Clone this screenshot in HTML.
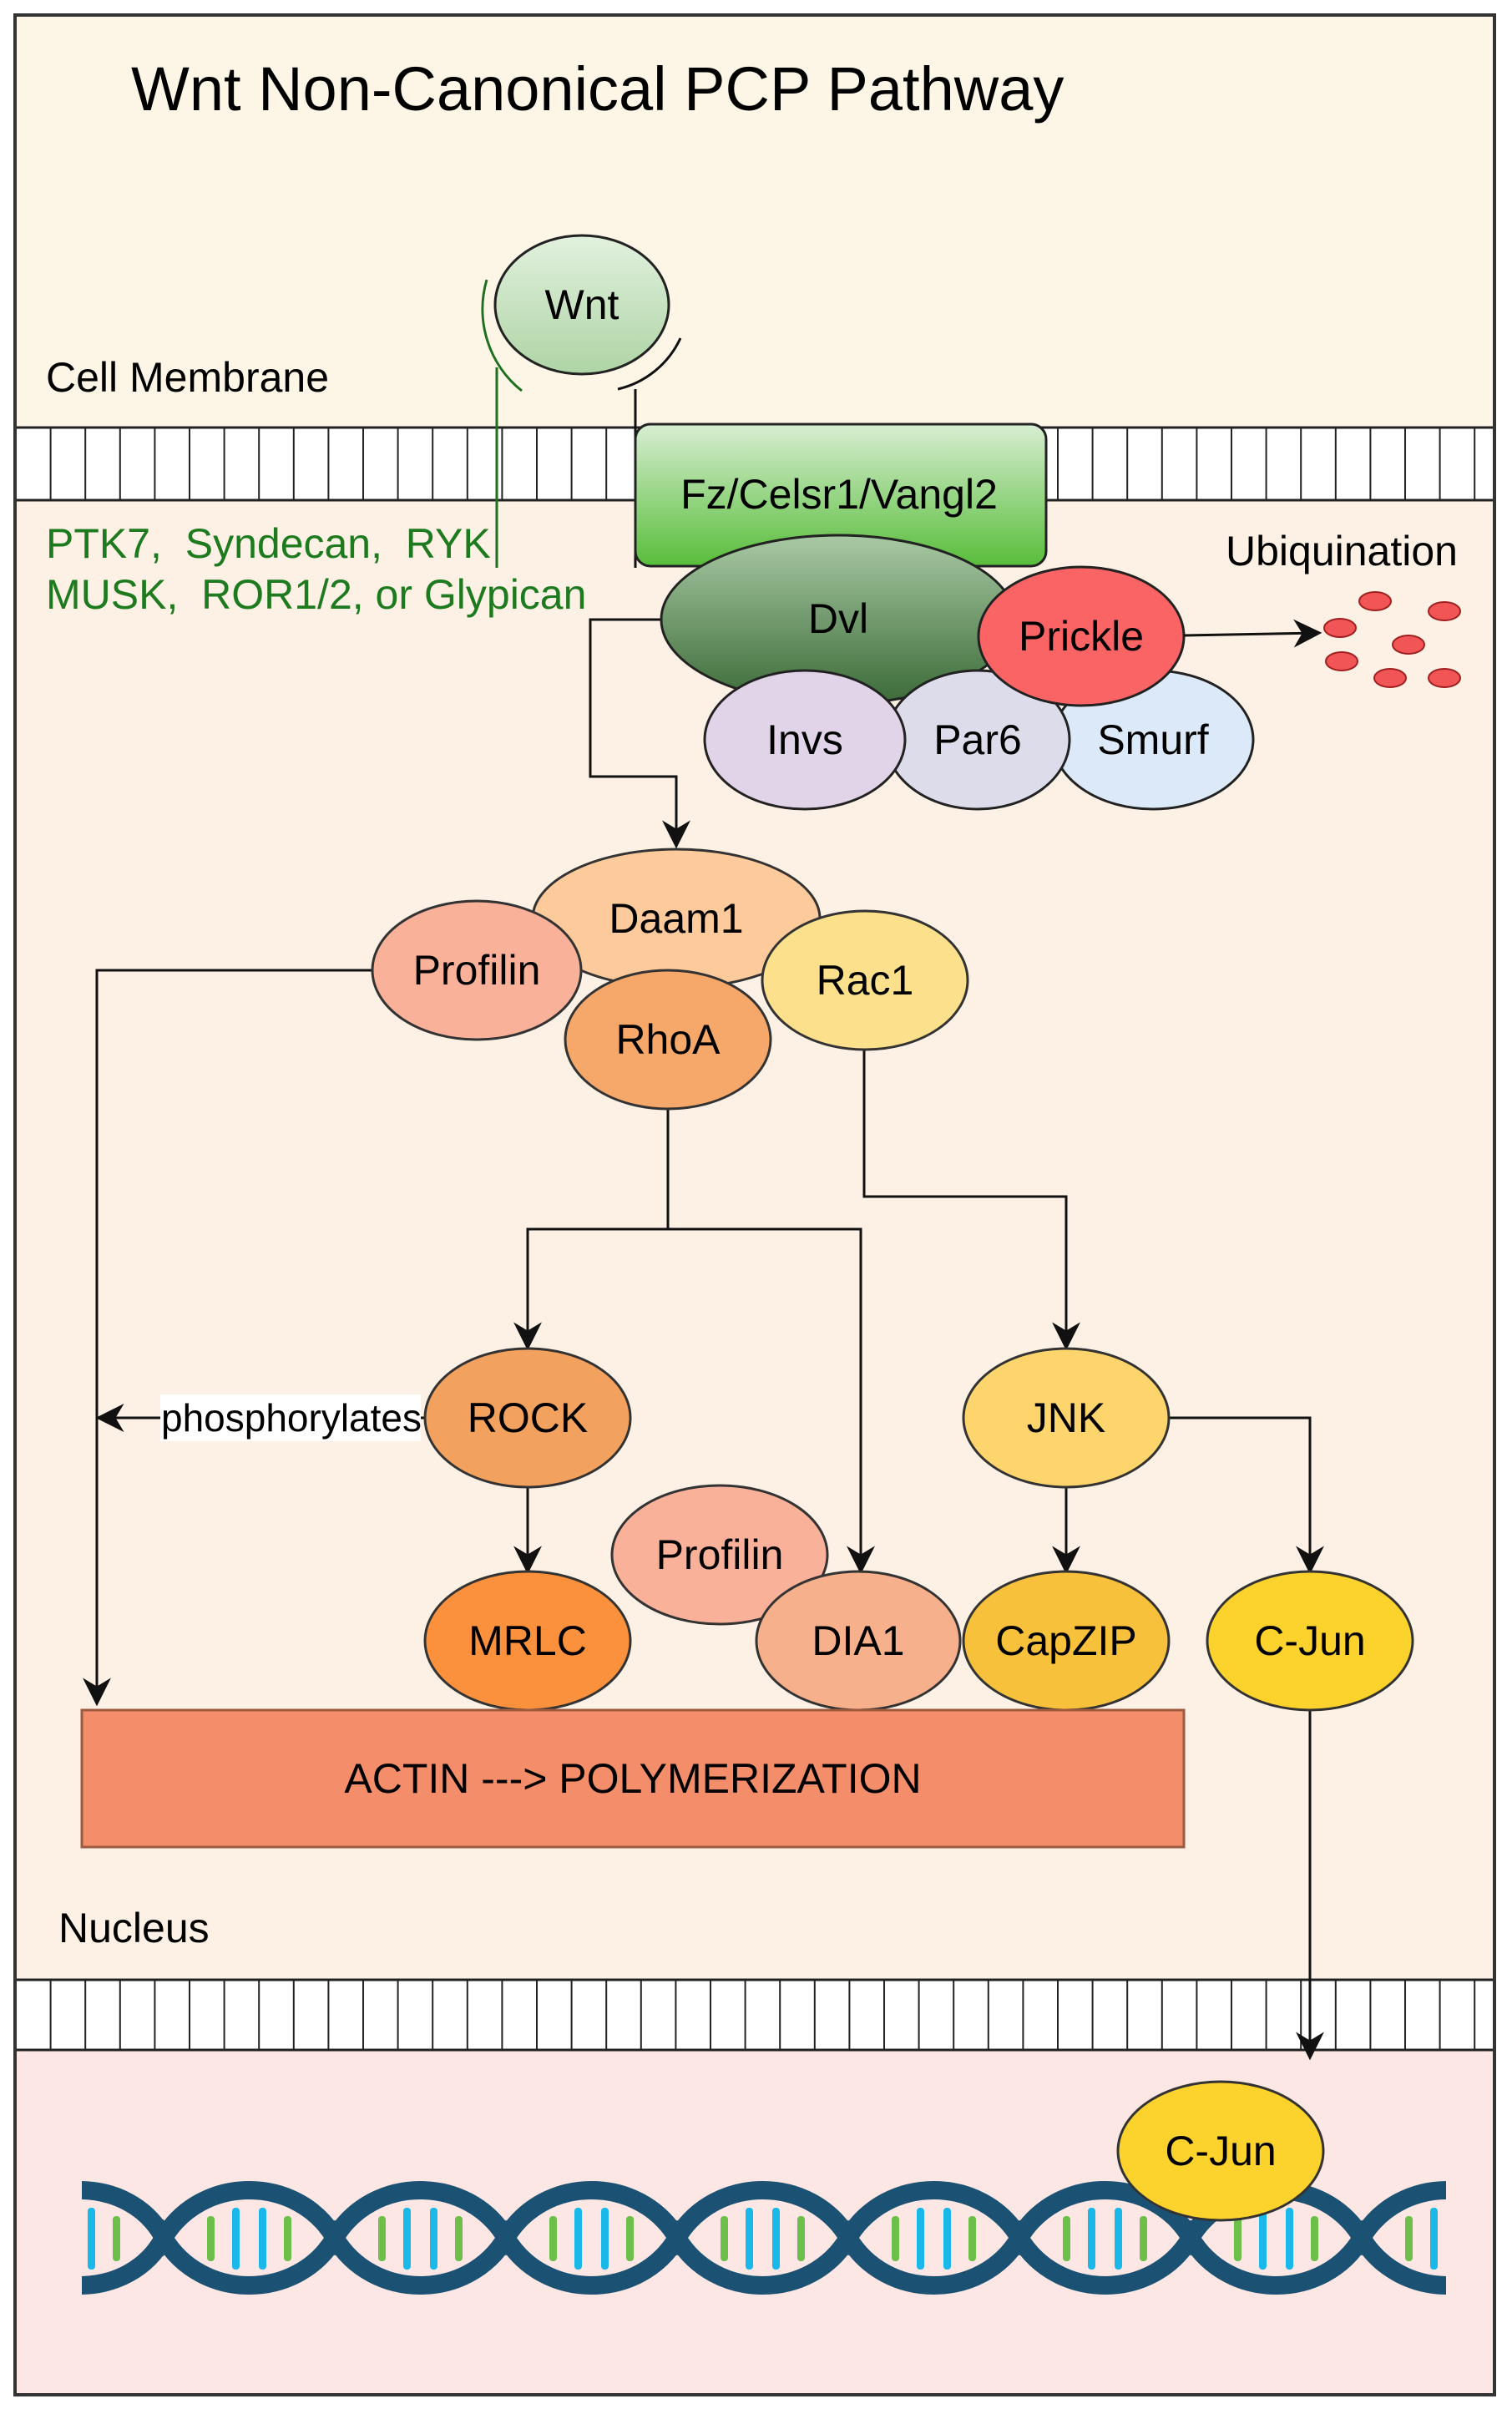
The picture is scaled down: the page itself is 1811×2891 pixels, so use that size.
<!DOCTYPE html>
<html><head><meta charset="utf-8"><style>
html,body{margin:0;padding:0;background:#fff;}
svg{display:block;}
text{font-family:"Liberation Sans",Arial,sans-serif;white-space:pre;}
</style></head><body>
<svg width="1811" height="2891" viewBox="0 0 1811 2891" xmlns="http://www.w3.org/2000/svg" xml:space="preserve">
<defs>
<linearGradient id="gw" x1="0" y1="0" x2="0" y2="1"><stop offset="0" stop-color="#e2f1de"/><stop offset="1" stop-color="#aed4a5"/></linearGradient>
<linearGradient id="gf" x1="0" y1="0" x2="0" y2="1"><stop offset="0" stop-color="#d8eed2"/><stop offset="1" stop-color="#58bd3a"/></linearGradient>
<linearGradient id="gd" x1="0" y1="0" x2="0" y2="1"><stop offset="0" stop-color="#a9c9a4"/><stop offset="1" stop-color="#3b6a37"/></linearGradient>
<pattern id="mem" x="18" y="0" width="41.6" height="100" patternUnits="userSpaceOnUse"><rect width="41.6" height="100" fill="#fff"/><line x1="0.5" y1="0" x2="0.5" y2="100" stroke="#222" stroke-width="3"/></pattern>
<marker id="arb" viewBox="0 0 20 20" refX="18" refY="10" markerWidth="34" markerHeight="34" markerUnits="userSpaceOnUse" orient="auto"><path d="M0,0 L20,10 L0,20 L6,10 Z" fill="#111"/></marker>
<clipPath id="dc"><rect x="98" y="2580" width="1634" height="200"/></clipPath>
</defs>

<rect x="18" y="18" width="1772" height="494" fill="#fdf6e6"/>
<rect x="18" y="599" width="1772" height="1772" fill="#fdf1e5"/>
<rect x="18" y="2455" width="1772" height="413" fill="#fce7e5"/>
<rect x="18" y="512" width="1772" height="87" fill="url(#mem)" stroke="#222" stroke-width="3"/>
<rect x="18" y="2371" width="1772" height="84" fill="url(#mem)" stroke="#222" stroke-width="3"/>
<rect x="18" y="18" width="1772" height="2850" fill="none" stroke="#333" stroke-width="4"/>

<text x="157" y="132" font-size="74">Wnt Non-Canonical PCP Pathway</text>
<text x="55" y="469" font-size="50">Cell Membrane</text>
<text x="70" y="2326" font-size="50">Nucleus</text>

<path d="M583,335 A125,125 0 0 0 625,468" fill="none" stroke="#1e6f1e" stroke-width="3"/>
<line x1="595" y1="440" x2="595" y2="680" stroke="#1e6f1e" stroke-width="3"/>
<path d="M815,405 A110,110 0 0 1 740,466" fill="none" stroke="#111" stroke-width="3"/>
<line x1="761" y1="466" x2="761" y2="680" stroke="#111" stroke-width="3"/>
<ellipse cx="697" cy="365" rx="104" ry="83" fill="url(#gw)" stroke="#222" stroke-width="3"/>
<text x="697" y="382" font-size="50" text-anchor="middle">Wnt</text>

<text x="55" y="668" font-size="50" fill="#1e7a1e">PTK7,  Syndecan,  RYK</text>
<text x="55" y="729" font-size="50" fill="#1e7a1e">MUSK,  ROR1/2, or Glypican</text>

<rect x="761" y="508" width="492" height="170" rx="18" fill="url(#gf)" stroke="#222" stroke-width="3"/>
<text x="1005" y="609" font-size="50" text-anchor="middle">Fz/Celsr1/Vangl2</text>

<path d="M792,742 H707 V930 H810 V1013" fill="none" stroke="#111" stroke-width="3" marker-end="url(#arb)"/>

<ellipse cx="1004" cy="742" rx="212" ry="101" fill="url(#gd)" stroke="#222" stroke-width="3"/>
<text x="1004" y="758" font-size="50" text-anchor="middle">Dvl</text>
<ellipse cx="1381" cy="886" rx="120" ry="83" fill="#dce9f8" stroke="#222" stroke-width="3"/>
<ellipse cx="1171" cy="886" rx="110" ry="83" fill="#dcdcea" stroke="#222" stroke-width="3"/>
<ellipse cx="964" cy="886" rx="120" ry="83" fill="#e1d4e8" stroke="#222" stroke-width="3"/>
<ellipse cx="1295" cy="762" rx="123" ry="83" fill="#fb6464" stroke="#222" stroke-width="3"/>
<text x="1295" y="779" font-size="50" text-anchor="middle">Prickle</text>
<text x="964" y="903" font-size="50" text-anchor="middle">Invs</text>
<text x="1171" y="903" font-size="50" text-anchor="middle">Par6</text>
<text x="1381" y="903" font-size="50" text-anchor="middle">Smurf</text>

<text x="1468" y="677" font-size="50">Ubiquination</text>
<line x1="1418" y1="761" x2="1580" y2="758" stroke="#111" stroke-width="3" marker-end="url(#arb)"/>
<g fill="#f25555" stroke="#a02020" stroke-width="2">
<ellipse cx="1647" cy="720" rx="19" ry="11"/><ellipse cx="1730" cy="732" rx="19" ry="11"/>
<ellipse cx="1605" cy="752" rx="19" ry="11"/><ellipse cx="1687" cy="772" rx="19" ry="11"/>
<ellipse cx="1607" cy="792" rx="19" ry="11"/><ellipse cx="1665" cy="812" rx="19" ry="11"/>
<ellipse cx="1730" cy="812" rx="19" ry="11"/>
</g>

<g fill="none" stroke="#111" stroke-width="3">
<path d="M446,1162 H116 V2040" marker-end="url(#arb)"/>
<path d="M800,1320 V1472 H632 V1614" marker-end="url(#arb)"/>
<path d="M800,1472 H1031 V1882" marker-end="url(#arb)"/>
<path d="M1035,1250 V1433 H1277 V1614" marker-end="url(#arb)"/>
<path d="M510,1698 H118" marker-end="url(#arb)"/>
<path d="M632,1781 V1882" marker-end="url(#arb)"/>
<path d="M1277,1781 V1882" marker-end="url(#arb)"/>
<path d="M1400,1698 H1569 V1882" marker-end="url(#arb)"/>
<path d="M1569,2048 V2464" marker-end="url(#arb)"/>
</g>
<rect x="192" y="1670" width="312" height="56" fill="#fff"/>
<text x="193" y="1714" font-size="46">phosphorylates</text>

<g stroke="#333" stroke-width="3">
<ellipse cx="810" cy="1100" rx="172" ry="83" fill="#fdca9b"/>
<ellipse cx="571" cy="1162" rx="125" ry="83" fill="#fab19a"/>
<ellipse cx="1036" cy="1174" rx="123" ry="83" fill="#fde08c"/>
<ellipse cx="800" cy="1245" rx="123" ry="83" fill="#f6a86a"/>
<ellipse cx="632" cy="1698" rx="123" ry="83" fill="#f2a15f"/>
<ellipse cx="1277" cy="1698" rx="123" ry="83" fill="#fdd56c"/>
<ellipse cx="632" cy="1965" rx="123" ry="83" fill="#fb913c"/>
<ellipse cx="862" cy="1862" rx="129" ry="83" fill="#fab19a"/>
<ellipse cx="1028" cy="1965" rx="122" ry="83" fill="#f6b18c"/>
<ellipse cx="1277" cy="1965" rx="123" ry="83" fill="#f7c13c"/>
<ellipse cx="1569" cy="1965" rx="123" ry="83" fill="#fcd22c"/>
</g>
<g font-size="50" text-anchor="middle">
<text x="810" y="1117">Daam1</text>
<text x="571" y="1179">Profilin</text>
<text x="1036" y="1191">Rac1</text>
<text x="800" y="1262">RhoA</text>
<text x="632" y="1715">ROCK</text>
<text x="1277" y="1715">JNK</text>
<text x="632" y="1982">MRLC</text>
<text x="862" y="1879">Profilin</text>
<text x="1028" y="1982">DIA1</text>
<text x="1277" y="1982">CapZIP</text>
<text x="1569" y="1982">C-Jun</text>
</g>

<rect x="98" y="2048" width="1320" height="164" fill="#f38d6a" stroke="#9c5a40" stroke-width="3"/>
<text x="758" y="2147" font-size="50" text-anchor="middle">ACTIN ---&gt; POLYMERIZATION</text>

<g clip-path="url(#dc)">
<g fill="none" stroke="#1b5273" stroke-width="22">
<path d="M-9,2680 C36,2604 156,2604 196,2680 C241,2604 356,2604 401,2680 C446,2604 561,2604 606,2680 C651,2604 766,2604 811,2680 C856,2604 971,2604 1016,2680 C1061,2604 1176,2604 1221,2680 C1266,2604 1381,2604 1426,2680 C1471,2604 1586,2604 1631,2680 C1676,2604 1791,2604 1836,2680"/>
<path d="M-9,2680 C36,2756 156,2756 196,2680 C241,2756 356,2756 401,2680 C446,2756 561,2756 606,2680 C651,2756 766,2756 811,2680 C856,2756 971,2756 1016,2680 C1061,2756 1176,2756 1221,2680 C1266,2756 1381,2756 1426,2680 C1471,2756 1586,2756 1631,2680 C1676,2756 1791,2756 1836,2680"/>
</g>
<g fill="#1ab8e8">
<rect x="105" y="2644" width="9" height="74" rx="4"/>
<rect x="278" y="2644" width="9" height="74" rx="4"/><rect x="310" y="2644" width="9" height="74" rx="4"/>
<rect x="483" y="2644" width="9" height="74" rx="4"/><rect x="515" y="2644" width="9" height="74" rx="4"/>
<rect x="688" y="2644" width="9" height="74" rx="4"/><rect x="720" y="2644" width="9" height="74" rx="4"/>
<rect x="893" y="2644" width="9" height="74" rx="4"/><rect x="925" y="2644" width="9" height="74" rx="4"/>
<rect x="1098" y="2644" width="9" height="74" rx="4"/><rect x="1130" y="2644" width="9" height="74" rx="4"/>
<rect x="1303" y="2644" width="9" height="74" rx="4"/><rect x="1335" y="2644" width="9" height="74" rx="4"/>
<rect x="1508" y="2644" width="9" height="74" rx="4"/><rect x="1540" y="2644" width="9" height="74" rx="4"/>
<rect x="1713" y="2644" width="9" height="74" rx="4"/>
</g>
<g fill="#6cc04a">
<rect x="135" y="2654" width="9" height="54" rx="4"/>
<rect x="248" y="2654" width="9" height="54" rx="4"/><rect x="340" y="2654" width="9" height="54" rx="4"/>
<rect x="453" y="2654" width="9" height="54" rx="4"/><rect x="545" y="2654" width="9" height="54" rx="4"/>
<rect x="658" y="2654" width="9" height="54" rx="4"/><rect x="750" y="2654" width="9" height="54" rx="4"/>
<rect x="863" y="2654" width="9" height="54" rx="4"/><rect x="955" y="2654" width="9" height="54" rx="4"/>
<rect x="1068" y="2654" width="9" height="54" rx="4"/><rect x="1160" y="2654" width="9" height="54" rx="4"/>
<rect x="1273" y="2654" width="9" height="54" rx="4"/><rect x="1365" y="2654" width="9" height="54" rx="4"/>
<rect x="1478" y="2654" width="9" height="54" rx="4"/><rect x="1570" y="2654" width="9" height="54" rx="4"/>
<rect x="1683" y="2654" width="9" height="54" rx="4"/>
</g>
</g>

<ellipse cx="1462" cy="2576" rx="123" ry="83" fill="#fcd22c" stroke="#333" stroke-width="3"/>
<text x="1462" y="2593" font-size="50" text-anchor="middle">C-Jun</text>
</svg>
</body></html>
